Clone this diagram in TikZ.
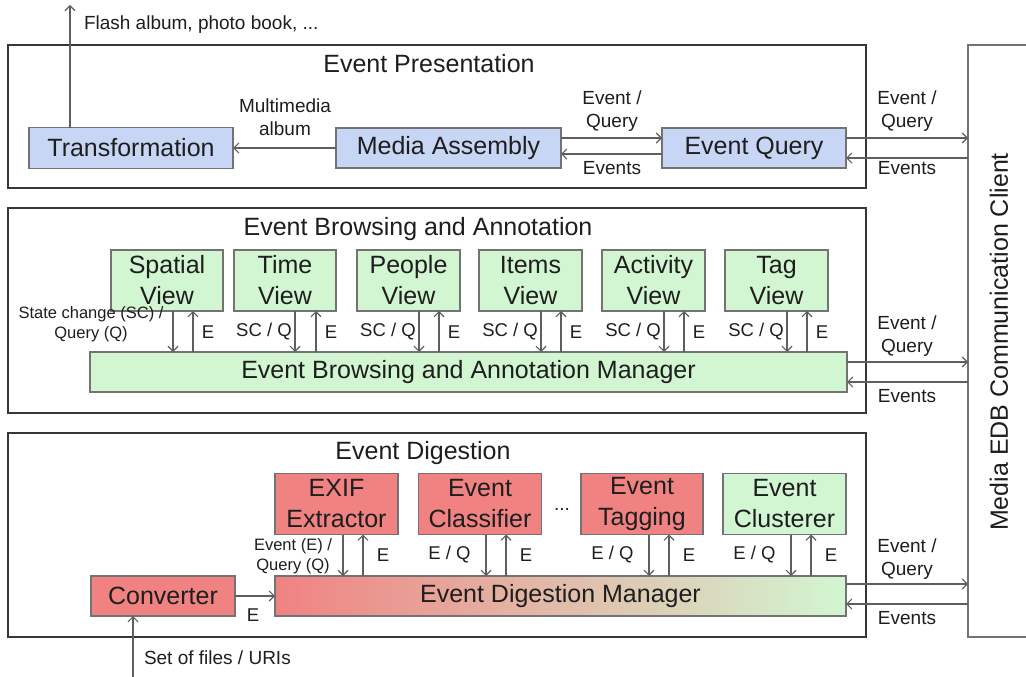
\documentclass[tikz,border=0pt]{standalone}
\usepackage{fontspec}
\setmainfont{Liberation Sans}
\usetikzlibrary{arrows.meta}

\definecolor{bluefill}{RGB}{200,214,245}
\definecolor{greenfill}{RGB}{210,246,210}
\definecolor{redfill}{RGB}{240,130,130}
\definecolor{peach}{RGB}{232,172,150}
\definecolor{boxline}{RGB}{115,115,115}
\definecolor{framec}{RGB}{55,55,55}
\definecolor{arrc}{RGB}{95,95,95}
\definecolor{txt}{RGB}{30,30,30}

\newcommand\boxfont{\fontsize{25}{31}\selectfont}
\newcommand\lblfont{\fontsize{19}{23}\selectfont}
\newcommand\smlfont{\fontsize{18.5}{22}\selectfont}
\newcommand\tinyfont{\fontsize{16.5}{19.5}\selectfont}

\begin{document}
\begin{tikzpicture}[x=1pt,y=-1pt,
  every node/.style={inner sep=0pt, outer sep=0pt, text=txt},
  outerframe/.style={draw=framec, line width=1.8pt},
  clientbox/.style={draw=boxline, line width=1.4pt, fill=white},
  comp/.style={draw=boxline, line width=1.1pt, font=\boxfont, align=center},
  pres/.style={comp, fill=bluefill},
  viewbox/.style={comp, fill=greenfill},
  digbox/.style={comp, fill=redfill},
  ttl/.style={font=\boxfont},
  lbl/.style={font=\lblfont, align=center},
  elbl/.style={font=\smlfont},
  smallnote/.style={font=\tinyfont, align=center},
  arr/.style={draw=arrc, line width=1.1pt, -{Straight Barb[length=5pt,width=10pt]}},
]
\fill[white] (0,0) rectangle (1026,677);
\useasboundingbox (0,0) rectangle (1026,677);

% layer frames and the communication client
\node[outerframe, minimum width=858, minimum height=143] (fP) at (437,116.5) {};
\node[outerframe, minimum width=858, minimum height=205] (fB) at (437,310.5) {};
\node[outerframe, minimum width=858, minimum height=204] (fD) at (437,535) {};
\node[clientbox, minimum width=59, minimum height=592] (client) at (997.5,341) {};
\node[ttl, rotate=90] (clientname) at (999,342) {Media EDB Communication Client};

\node[ttl] (tP) at (429,64) {Event Presentation};
\node[ttl] (tB) at (418,229) {Event Browsing and Annotation};
\node[ttl] (tD) at (423,453) {Event Digestion};

% ---------- presentation layer ----------
\node[pres, minimum width=204, minimum height=41] (trans) at (131,148) {Transformation};
\node[pres, minimum width=225, minimum height=40] (media) at (448.5,148) {Media Assembly};
\node[pres, minimum width=184, minimum height=40] (query) at (754,148) {Event Query};

\coordinate (flash) at (70,5);
\draw[arr] (trans.north -| 70,0) -- (flash);
\node[lbl, anchor=west] (flashlbl) at (84,25) {Flash album, photo book, ...};

\draw[arr] (media.west) -- (trans.east);
\node[lbl] (mmlbl) at (285,117.5) {Multimedia\\album};

\draw[arr] (media.east |- 0,138) -- (query.west |- 0,138);
\draw[arr] (query.west |- 0,154) -- (media.east |- 0,154);
\node[lbl] (mqreq) at (612,111.5) {Event /\\Query};
\node[lbl] (mqev) at (612,168) {Events};

\draw[arr] (query.east |- 0,138) -- (client.west |- 0,138);
\draw[arr] (client.west |- 0,158) -- (query.east |- 0,158);
\node[lbl] (pcreq) at (907,111.5) {Event /\\Query};
\node[lbl] (pcev) at (907,168) {Events};

% ---------- browsing and annotation layer ----------
\node[viewbox, minimum width=757, minimum height=40] (bman) at (468.5,372) {Event Browsing and Annotation Manager};

\foreach \n/\t/\c/\w/\d/\u in {
    vSpatial/Spatial/167/112/173/193,
    vTime/Time/285/102/295/316,
    vPeople/People/408.5/103/419/439,
    vItems/Items/530.5/103/541/561,
    vActivity/Activity/653.5/103/664/684,
    vTag/Tag/776.5/103/787/807} {
  \node[viewbox, minimum width=\w, minimum height=61] (\n) at (\c,280.5) {\t\\View};
  \draw[arr] (\n.south -| \d,0) -- (bman.north -| \d,0);
  \draw[arr] (bman.north -| \u,0) -- (\n.south -| \u,0);
  \node[elbl] (e\n) at (\u+15,332) {E};
}
\foreach \n/\d in {vTime/295, vPeople/419, vItems/541, vActivity/664, vTag/787} {
  \node[elbl] (sq\n) at (\d-31,332) {SC / Q};
}
\node[smallnote] (scnote) at (91,324) {State change (SC) /\\Query (Q)};

\draw[arr] (bman.east |- 0,362) -- (client.west |- 0,362);
\draw[arr] (client.west |- 0,382) -- (bman.east |- 0,382);
\node[lbl] (bcreq) at (907,336.5) {Event /\\Query};
\node[lbl] (bcev) at (907,396) {Events};

% ---------- digestion layer ----------
\node[comp, left color=redfill, middle color=peach, right color=greenfill,
      minimum width=571, minimum height=40] (dman) at (560.5,596) {Event Digestion Manager};
\node[digbox, minimum width=144, minimum height=40] (conv) at (163,596) {Converter};

\node[digbox, minimum width=123, minimum height=61] (exif) at (336.5,504) {EXIF\\Extractor};
\node[digbox, minimum width=123, minimum height=61] (classif) at (480,504) {Event\\Classifier};
\node[digbox, minimum width=122, minimum height=61] (tagging) at (642,504) {Event\\Tagging};
\node[viewbox, minimum width=123, minimum height=61] (cluster) at (784.5,504) {Event\\Clusterer};
\node[lbl] (dots) at (562,509) {...};

\foreach \n/\d/\u in {exif/343/363, classif/486/506, tagging/649/669, cluster/791/811} {
  \draw[arr] (\n.south -| \d,0) -- (dman.north -| \d,0);
  \draw[arr] (dman.north -| \u,0) -- (\n.south -| \u,0);
  \node[elbl] (e\n) at (\u+20,555) {E};
}
\foreach \n/\d in {classif/486, tagging/649, cluster/791} {
  \node[elbl] (eq\n) at (\d-36.5,555) {E / Q};
}
\node[smallnote] (eqnote) at (293,556) {Event (E) /\\Query (Q)};

\draw[arr] (conv.east) -- (dman.west);
\node[elbl] (convlbl) at (253,615) {E};

\coordinate (filesin) at (133,677);
\draw[arr] (filesin) -- (conv.south -| 133,0);
\node[lbl, anchor=west] (fileslbl) at (144,658) {Set of files / URIs};

\draw[arr] (dman.east |- 0,584) -- (client.west |- 0,584);
\draw[arr] (client.west |- 0,604) -- (dman.east |- 0,604);
\node[lbl] (dcreq) at (907,559) {Event /\\Query};
\node[lbl] (dcev) at (907,618) {Events};
\end{tikzpicture}
\end{document}
